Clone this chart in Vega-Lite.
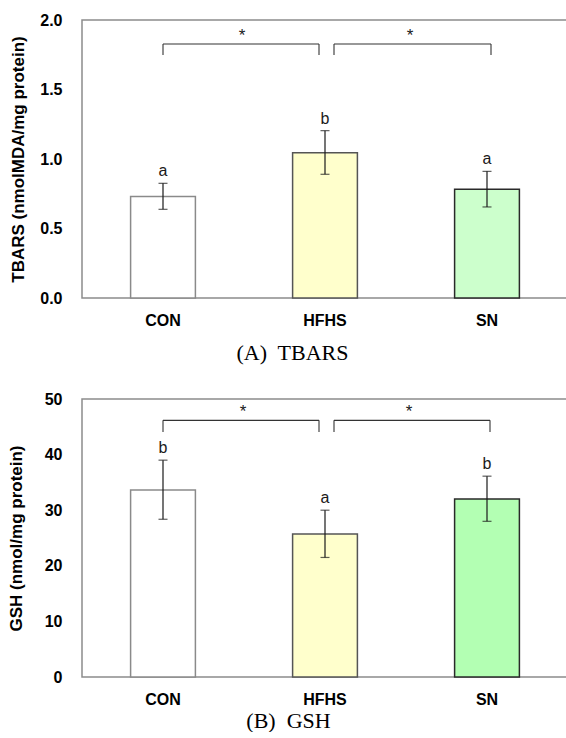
{
  "$schema": "https://vega.github.io/schema/vega-lite/v6.json",
  "autosize": {"type": "pad"},
  "padding": {"left": 6, "top": 11, "right": 0, "bottom": 0},
  "background": "white",
  "bounds": "flush",
  "spacing": 101,
  "datasets": {
    "tbars": [
      {"group": "CON", "mean": 0.73, "lo": 0.638, "hi": 0.825, "letter": "a"},
      {"group": "HFHS", "mean": 1.045, "lo": 0.89, "hi": 1.204, "letter": "b"},
      {"group": "SN", "mean": 0.782, "lo": 0.655, "hi": 0.911, "letter": "a"}
    ],
    "gsh": [
      {"group": "CON", "mean": 33.65, "lo": 28.37, "hi": 39.0, "letter": "b"},
      {"group": "HFHS", "mean": 25.72, "lo": 21.5, "hi": 30.0, "letter": "a"},
      {"group": "SN", "mean": 32.03, "lo": 28.0, "hi": 36.12, "letter": "b"}
    ],
    "sig": [
      {"from": "CON", "to": "HFHS", "label": "*"},
      {"from": "HFHS", "to": "SN", "label": "*"}
    ]
  },
  "vconcat": [
    {
      "width": 486,
      "height": 278,
      "layer": [
        {
          "data": {"name": "tbars"},
          "mark": {"type": "bar", "width": {"band": 0.4}, "strokeWidth": 1.5},
          "encoding": {
            "x": {"field": "group", "type": "nominal", "scale": {"paddingInner": 0, "paddingOuter": 0},
              "axis": {"title": "(A)\u00a0 TBARS", "titleX": 210, "titleY": 61}},
            "y": {"field": "mean", "type": "quantitative", "scale": {"domain": [0, 2]},
              "axis": {"title": "TBARS (nmolMDA/mg protein)", "values": [0, 0.5, 1, 1.5, 2], "format": ".1f", "titleX": -64, "titleY": 139}},
            "fill": {"field": "group", "type": "nominal", "scale": {"domain": ["CON", "HFHS", "SN"], "range": ["#ffffff", "#ffffcc", "#ccffcc"]}, "legend": null},
            "stroke": {"field": "group", "type": "nominal", "scale": {"domain": ["CON", "HFHS", "SN"], "range": ["#8a8a8a", "#555555", "#2a2a2a"]}, "legend": null}
          }
        },
        {
          "data": {"name": "tbars"},
          "mark": {"type": "rule", "color": "#1a1a1a", "strokeWidth": 1.2},
          "encoding": {
            "x": {"field": "group", "type": "nominal"},
            "y": {"field": "lo", "type": "quantitative"},
            "y2": {"field": "hi"}
          }
        },
        {
          "data": {"name": "tbars"},
          "mark": {"type": "tick", "size": 9, "thickness": 1.2, "color": "#1a1a1a"},
          "encoding": {
            "x": {"field": "group", "type": "nominal"},
            "y": {"field": "lo", "type": "quantitative"}
          }
        },
        {
          "data": {"name": "tbars"},
          "mark": {"type": "tick", "size": 9, "thickness": 1.2, "color": "#1a1a1a"},
          "encoding": {
            "x": {"field": "group", "type": "nominal"},
            "y": {"field": "hi", "type": "quantitative"}
          }
        },
        {
          "data": {"name": "tbars"},
          "mark": {"type": "text", "dy": -7, "baseline": "alphabetic", "fontSize": 16, "font": "Liberation Sans", "color": "#1a1a1a"},
          "encoding": {
            "x": {"field": "group", "type": "nominal"},
            "y": {"field": "hi", "type": "quantitative"},
            "text": {"field": "letter"}
          }
        },
        {
          "data": {"name": "sig"},
          "transform": [{"filter": "datum.from == 'CON'"}],
          "layer": [
            {"mark": {"type": "rule", "color": "#333333", "strokeWidth": 1.1, "x2Offset": -6},
             "encoding": {"x": {"field": "from", "type": "nominal"}, "x2": {"field": "to"}, "y": {"datum": 1.827, "type": "quantitative"}}},
            {"mark": {"type": "rule", "color": "#333333", "strokeWidth": 1.1},
             "encoding": {"x": {"field": "from", "type": "nominal"}, "y": {"datum": 1.827, "type": "quantitative"}, "y2": {"datum": 1.749}}},
            {"mark": {"type": "rule", "color": "#333333", "strokeWidth": 1.1, "xOffset": -6},
             "encoding": {"x": {"field": "to", "type": "nominal"}, "y": {"datum": 1.827, "type": "quantitative"}, "y2": {"datum": 1.749}}},
            {"mark": {"type": "text", "fontSize": 17, "font": "Liberation Sans", "baseline": "alphabetic", "dy": -3, "xOffset": -2, "color": "#1a1a1a"},
             "encoding": {"x": {"field": "to", "type": "nominal", "bandPosition": 0}, "y": {"datum": 1.827, "type": "quantitative"}, "text": {"field": "label"}}}
          ]
        },
        {
          "data": {"name": "sig"},
          "transform": [{"filter": "datum.from == 'HFHS'"}],
          "layer": [
            {"mark": {"type": "rule", "color": "#333333", "strokeWidth": 1.1, "xOffset": 9, "x2Offset": 4},
             "encoding": {"x": {"field": "from", "type": "nominal"}, "x2": {"field": "to"}, "y": {"datum": 1.827, "type": "quantitative"}}},
            {"mark": {"type": "rule", "color": "#333333", "strokeWidth": 1.1, "xOffset": 9},
             "encoding": {"x": {"field": "from", "type": "nominal"}, "y": {"datum": 1.827, "type": "quantitative"}, "y2": {"datum": 1.749}}},
            {"mark": {"type": "rule", "color": "#333333", "strokeWidth": 1.1, "xOffset": 4},
             "encoding": {"x": {"field": "to", "type": "nominal"}, "y": {"datum": 1.827, "type": "quantitative"}, "y2": {"datum": 1.749}}},
            {"mark": {"type": "text", "fontSize": 17, "font": "Liberation Sans", "baseline": "alphabetic", "dy": -3, "xOffset": 4, "color": "#1a1a1a"},
             "encoding": {"x": {"field": "to", "type": "nominal", "bandPosition": 0}, "y": {"datum": 1.827, "type": "quantitative"}, "text": {"field": "label"}}}
          ]
        }
      ]
    },
    {
      "width": 486,
      "height": 278,
      "layer": [
        {
          "data": {"name": "gsh"},
          "mark": {"type": "bar", "width": {"band": 0.4}, "strokeWidth": 1.5},
          "encoding": {
            "x": {"field": "group", "type": "nominal", "scale": {"paddingInner": 0, "paddingOuter": 0},
              "axis": {"title": "(B)\u00a0 GSH", "titleX": 206, "titleY": 50}},
            "y": {"field": "mean", "type": "quantitative", "scale": {"domain": [0, 50]},
              "axis": {"title": "GSH (nmol/mg protein)", "values": [0, 10, 20, 30, 40, 50], "format": "d", "titleX": -66, "titleY": 139}},
            "fill": {"field": "group", "type": "nominal", "scale": {"domain": ["CON", "HFHS", "SN"], "range": ["#ffffff", "#ffffcc", "#b3ffb3"]}, "legend": null},
            "stroke": {"field": "group", "type": "nominal", "scale": {"domain": ["CON", "HFHS", "SN"], "range": ["#8a8a8a", "#555555", "#2a2a2a"]}, "legend": null}
          }
        },
        {
          "data": {"name": "gsh"},
          "mark": {"type": "rule", "color": "#1a1a1a", "strokeWidth": 1.2},
          "encoding": {
            "x": {"field": "group", "type": "nominal"},
            "y": {"field": "lo", "type": "quantitative"},
            "y2": {"field": "hi"}
          }
        },
        {
          "data": {"name": "gsh"},
          "mark": {"type": "tick", "size": 9, "thickness": 1.2, "color": "#1a1a1a"},
          "encoding": {
            "x": {"field": "group", "type": "nominal"},
            "y": {"field": "lo", "type": "quantitative"}
          }
        },
        {
          "data": {"name": "gsh"},
          "mark": {"type": "tick", "size": 9, "thickness": 1.2, "color": "#1a1a1a"},
          "encoding": {
            "x": {"field": "group", "type": "nominal"},
            "y": {"field": "hi", "type": "quantitative"}
          }
        },
        {
          "data": {"name": "gsh"},
          "mark": {"type": "text", "dy": -7, "baseline": "alphabetic", "fontSize": 16, "font": "Liberation Sans", "color": "#1a1a1a"},
          "encoding": {
            "x": {"field": "group", "type": "nominal"},
            "y": {"field": "hi", "type": "quantitative"},
            "text": {"field": "letter"}
          }
        },
        {
          "data": {"name": "sig"},
          "transform": [{"filter": "datum.from == 'CON'"}],
          "layer": [
            {"mark": {"type": "rule", "color": "#333333", "strokeWidth": 1.1, "x2Offset": -6},
             "encoding": {"x": {"field": "from", "type": "nominal"}, "x2": {"field": "to"}, "y": {"datum": 46.16, "type": "quantitative"}}},
            {"mark": {"type": "rule", "color": "#333333", "strokeWidth": 1.1},
             "encoding": {"x": {"field": "from", "type": "nominal"}, "y": {"datum": 46.16, "type": "quantitative"}, "y2": {"datum": 44.05}}},
            {"mark": {"type": "rule", "color": "#333333", "strokeWidth": 1.1, "xOffset": -6},
             "encoding": {"x": {"field": "to", "type": "nominal"}, "y": {"datum": 46.16, "type": "quantitative"}, "y2": {"datum": 44.05}}},
            {"mark": {"type": "text", "fontSize": 17, "font": "Liberation Sans", "baseline": "alphabetic", "dy": -3, "xOffset": -1, "color": "#1a1a1a"},
             "encoding": {"x": {"field": "to", "type": "nominal", "bandPosition": 0}, "y": {"datum": 46.16, "type": "quantitative"}, "text": {"field": "label"}}}
          ]
        },
        {
          "data": {"name": "sig"},
          "transform": [{"filter": "datum.from == 'HFHS'"}],
          "layer": [
            {"mark": {"type": "rule", "color": "#333333", "strokeWidth": 1.1, "xOffset": 9, "x2Offset": 3},
             "encoding": {"x": {"field": "from", "type": "nominal"}, "x2": {"field": "to"}, "y": {"datum": 46.16, "type": "quantitative"}}},
            {"mark": {"type": "rule", "color": "#333333", "strokeWidth": 1.1, "xOffset": 9},
             "encoding": {"x": {"field": "from", "type": "nominal"}, "y": {"datum": 46.16, "type": "quantitative"}, "y2": {"datum": 44.05}}},
            {"mark": {"type": "rule", "color": "#333333", "strokeWidth": 1.1, "xOffset": 3},
             "encoding": {"x": {"field": "to", "type": "nominal"}, "y": {"datum": 46.16, "type": "quantitative"}, "y2": {"datum": 44.05}}},
            {"mark": {"type": "text", "fontSize": 17, "font": "Liberation Sans", "baseline": "alphabetic", "dy": -3, "xOffset": 3, "color": "#1a1a1a"},
             "encoding": {"x": {"field": "to", "type": "nominal", "bandPosition": 0}, "y": {"datum": 46.16, "type": "quantitative"}, "text": {"field": "label"}}}
          ]
        }
      ]
    }
  ],
  "resolve": {"scale": {"fill": "independent", "stroke": "independent"}},
  "config": {
    "view": {"stroke": "#8c8c8c", "strokeWidth": 1.5},
    "axis": {
      "grid": false,
      "domain": false,
      "ticks": false,
      "tickSize": 0,
      "labelFont": "Liberation Sans",
      "labelFontWeight": "bold",
      "labelFontSize": 16,
      "labelColor": "#000000",
      "titleColor": "#000000"
    },
    "axisX": {
      "labelAngle": 0,
      "labelPadding": 27,
      "labelBaseline": "alphabetic",
      "titleFont": "Liberation Serif",
      "titleFontWeight": "normal",
      "titleFontSize": 22,
      "titleBaseline": "alphabetic",
      "titleAlign": "center",
      "titleAnchor": null
    },
    "axisY": {
      "labelPadding": 20,
      "titleFont": "Liberation Sans",
      "titleFontWeight": "bold",
      "titleFontSize": 17,
      "titleAngle": 270,
      "titleBaseline": "middle",
      "titleAlign": "center"
    }
  }
}
